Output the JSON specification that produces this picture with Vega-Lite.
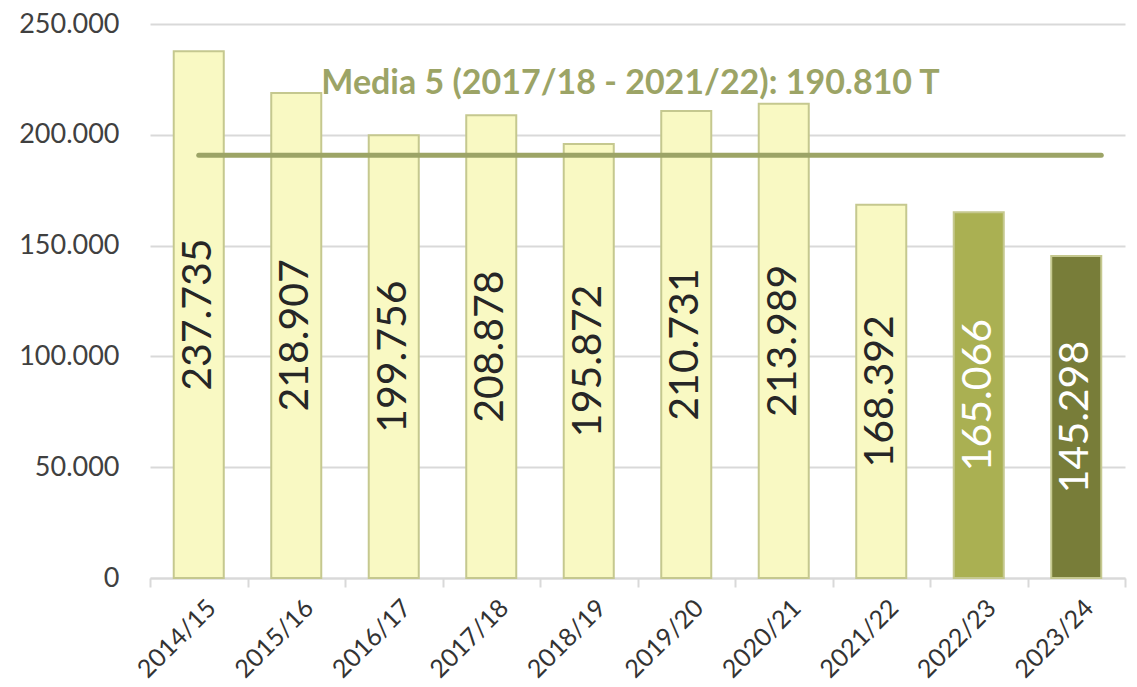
{
  "$schema": "https://vega.github.io/schema/vega-lite/v6.json",
  "width": 975,
  "height": 554,
  "autosize": {"type": "none"},
  "padding": {"left": 150, "top": 24, "right": 12, "bottom": 109},
  "config": {
    "locale": {"number": {"decimal": ",", "thousands": ".", "grouping": [3], "currency": ["", " €"]}},
    "view": {"stroke": null},
    "font": "Lato"
  },
  "datasets": {
    "campanas": [
      {"campana": "2014/15", "toneladas": 237735},
      {"campana": "2015/16", "toneladas": 218907},
      {"campana": "2016/17", "toneladas": 199756},
      {"campana": "2017/18", "toneladas": 208878},
      {"campana": "2018/19", "toneladas": 195872},
      {"campana": "2019/20", "toneladas": 210731},
      {"campana": "2020/21", "toneladas": 213989},
      {"campana": "2021/22", "toneladas": 168392},
      {"campana": "2022/23", "toneladas": 165066},
      {"campana": "2023/24", "toneladas": 145298}
    ],
    "media": [
      {"desde": "2014/15", "hasta": "2023/24", "media": 190810, "etiqueta": "Media 5 (2017/18 - 2021/22): 190.810 T", "pos": "2019/20"}
    ]
  },
  "resolve": {"scale": {"y": "independent"}},
  "layer": [
    {
      "data": {"name": "campanas"},
      "mark": {"type": "bar", "stroke": "#c5c88f", "strokeWidth": 2, "width": {"band": 0.513}},
      "encoding": {
        "x": {
          "field": "campana", "type": "nominal", "sort": null,
          "scale": {"paddingInner": 0, "paddingOuter": 0},
          "axis": {
            "title": null, "labelAngle": -45, "labelAlign": "right", "labelBaseline": "top",
            "labelFontSize": 25, "labelColor": "#333333", "labelPadding": 8, "labelOffset": 4,
            "domainColor": "#d9d9d9", "domainWidth": 2, "tickColor": "#d9d9d9", "tickWidth": 2,
            "tickSize": 9, "tickBand": "extent", "grid": false
          }
        },
        "y": {
          "field": "toneladas", "type": "quantitative",
          "scale": {"domain": [0, 250000], "nice": false},
          "axis": {
            "title": null, "values": [0, 50000, 100000, 150000, 200000, 250000], "format": ",d",
            "labelFontSize": 27, "labelColor": "#404040", "labelPadding": 31,
            "domain": false, "ticks": false, "gridColor": "#d9d9d9", "gridWidth": 2
          }
        },
        "fill": {
          "field": "campana", "type": "nominal", "legend": null,
          "scale": {
            "domain": ["2014/15", "2015/16", "2016/17", "2017/18", "2018/19", "2019/20", "2020/21", "2021/22", "2022/23", "2023/24"],
            "range": ["#f9f9c3", "#f9f9c3", "#f9f9c3", "#f9f9c3", "#f9f9c3", "#f9f9c3", "#f9f9c3", "#f9f9c3", "#aab052", "#787d39"]
          }
        }
      }
    },
    {
      "data": {"name": "campanas"},
      "mark": {"type": "text", "angle": 270, "fontSize": 41, "align": "center", "baseline": "middle"},
      "encoding": {
        "x": {"field": "campana", "type": "nominal", "sort": null},
        "y": {"field": "toneladas", "type": "quantitative", "scale": {"domain": [0, 500000], "nice": false}, "axis": null},
        "text": {"field": "toneladas", "type": "quantitative", "format": ",d"},
        "color": {
          "condition": {"test": "datum.campana === '2022/23' || datum.campana === '2023/24'", "value": "#ffffff"},
          "value": "#262626"
        }
      }
    },
    {
      "data": {"name": "media"},
      "mark": {"type": "rule", "color": "#9ca466", "strokeWidth": 5, "strokeCap": "round", "x2Offset": 25},
      "encoding": {
        "x": {"field": "desde", "type": "nominal"},
        "x2": {"field": "hasta"},
        "y": {"field": "media", "type": "quantitative", "scale": {"domain": [0, 250000], "nice": false}, "axis": null}
      }
    },
    {
      "data": {"name": "media"},
      "mark": {"type": "text", "color": "#9ca466", "fontSize": 34, "fontWeight": "bold", "align": "center", "baseline": "alphabetic", "dy": -61, "dx": -7},
      "encoding": {
        "x": {"field": "pos", "type": "nominal", "bandPosition": 0},
        "y": {"field": "media", "type": "quantitative", "scale": {"domain": [0, 250000], "nice": false}, "axis": null},
        "text": {"field": "etiqueta"}
      }
    }
  ]
}
